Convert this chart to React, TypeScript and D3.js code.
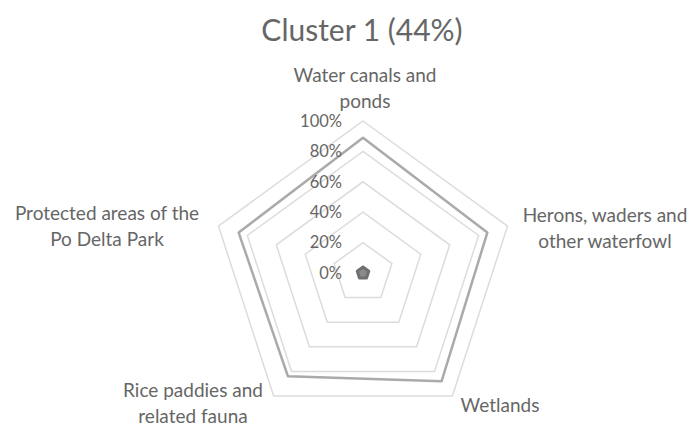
import { useEffect, useRef } from "react"
import * as d3 from "d3"

const title = "Cluster 1 (44%)"
const categories = [
  ["Water canals and", "ponds"],
  ["Herons, waders and", "other waterfowl"],
  ["Wetlands"],
  ["Rice paddies and", "related fauna"],
  ["Protected areas of the", "Po Delta Park"],
]
const ticks = [0, 20, 40, 60, 80, 100]
const seriesMain = [89, 86, 88, 84, 86]
const seriesSmall = [4, 4, 4, 4, 4]

export default function App() {
  const svgRef = useRef<SVGSVGElement>(null)

  useEffect(() => {
    if (!svgRef.current) return
    const svg = d3.select(svgRef.current)
    svg.selectAll("*").remove()

    const width = 695
    const height = 429
    const cx = 363
    const cy = 273
    const radius = 152
    const font = "Lato, 'Open Sans', sans-serif"
    const textColor = "#666"

    svg.append("rect").attr("width", width).attr("height", height).attr("fill", "#fff")

    const r = d3.scaleLinear().domain([0, 100]).range([0, radius])
    const angle = (i: number) => (i * 2 * Math.PI) / categories.length

    const g = svg.append("g").attr("transform", `translate(${cx}, ${cy})`)

    const line = d3
      .lineRadial<number>()
      .angle((_, i) => angle(i))
      .radius((d) => r(d))
      .curve(d3.curveLinearClosed)

    // Gridlines
    ticks.filter((t) => t > 0).forEach((t) => {
      g.append("path")
        .datum(categories.map(() => t))
        .attr("d", line)
        .attr("fill", "none")
        .attr("stroke", "#dcdcdc")
        .attr("stroke-width", 1.5)
    })

    // Series
    g.append("path")
      .datum(seriesMain)
      .attr("d", line)
      .attr("fill", "none")
      .attr("stroke", "#aaaaaa")
      .attr("stroke-width", 2.5)
      .attr("stroke-linejoin", "round")

    g.append("path")
      .datum(seriesSmall)
      .attr("d", line)
      .attr("fill", "#8a8a8a")
      .attr("stroke", "#6f6f6f")
      .attr("stroke-width", 3)
      .attr("stroke-linejoin", "round")

    // Tick labels
    g.selectAll(".tick")
      .data(ticks)
      .enter()
      .append("text")
      .attr("x", -21)
      .attr("y", (d) => -r(d))
      .attr("dy", "0.35em")
      .attr("text-anchor", "end")
      .style("font-family", font)
      .style("font-size", "16.5px")
      .style("fill", textColor)
      .text((d) => `${d}%`)

    // Category labels
    const labelPos = [
      { x: 2, y: -198 },
      { x: 242, y: -58 },
      { x: 137, y: 132 },
      { x: -170, y: 117 },
      { x: -256, y: -60 },
    ]
    categories.forEach((lines, i) => {
      const p = labelPos[i]
      const t = g
        .append("text")
        .attr("x", p.x)
        .attr("y", p.y)
        .attr("text-anchor", "middle")
        .style("font-family", font)
        .style("font-size", "19px")
        .style("fill", textColor)
      lines.forEach((s, j) => {
        t.append("tspan").attr("x", p.x).attr("dy", j === 0 ? "0.35em" : "26px").text(s)
      })
    })

    svg
      .append("text")
      .attr("x", 362)
      .attr("y", 30)
      .attr("dy", "0.35em")
      .attr("text-anchor", "middle")
      .style("font-family", font)
      .style("font-size", "30px")
      .style("fill", textColor)
      .text(title)
  }, [])

  return (
    <div style={{ position: "fixed", left: 0, top: 0 }}>
      <svg ref={svgRef} width={695} height={429} style={{ display: "block" }} />
    </div>
  )
}
